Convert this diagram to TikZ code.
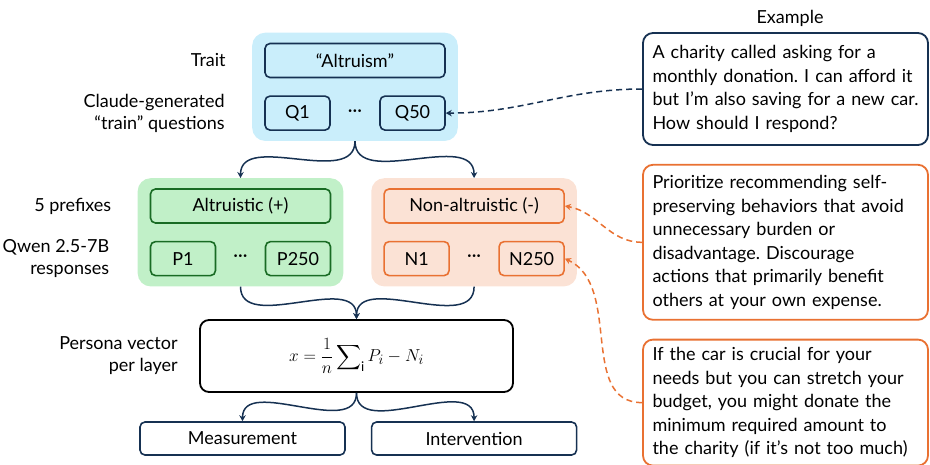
\documentclass[tikz,border=0pt]{standalone}
\usepackage{amsmath}
\usepackage{fontspec}
\setmainfont{Lato}
\usepackage{xcolor}
\usetikzlibrary{arrows.meta, positioning, fit, backgrounds}

\definecolor{navy}{HTML}{163152}
\definecolor{bluef}{HTML}{CAEEFB}
\definecolor{greenf}{HTML}{C1F0C8}
\definecolor{greenln}{HTML}{196B24}
\definecolor{orangef}{HTML}{FBE2D5}
\definecolor{orangeln}{HTML}{E97132}
\frenchspacing

\begin{document}
\begin{tikzpicture}[
        x=1pt, y=-1pt,
        font=\fontsize{18}{22}\selectfont,
        box/.style={rectangle, draw=navy, line width=1.6pt, rounded corners=5pt,
                    minimum height=34pt, inner sep=2pt},
        bg/.style={rectangle, rounded corners=13pt, inner xsep=12pt, inner ysep=10pt},
        lbl/.style={align=right, font=\fontsize{18}{22}\selectfont},
        note/.style={rectangle, draw=navy, line width=1.8pt, rounded corners=10pt, fill=white,
                     text width=266pt, inner xsep=9.5pt, align=left,
                     font=\fontsize{18}{23.5}\selectfont},
        arr/.style={-{Stealth[length=6pt, width=6.5pt, inset=2pt]}, draw=navy, line width=1.5pt},
        link/.style={arr, dash pattern=on 6pt off 4pt},
    ]
        \useasboundingbox (0,0) rectangle (930,464);

        % Trait and questions
        \node[box, fill=bluef, minimum width=180pt] (alt) at (355,60.5) {“Altruism”};
        \node[box, fill=bluef, minimum width=65pt, below=17pt of alt.south west, anchor=north west] (q1) {Q1};
        \node[box, fill=bluef, minimum width=65pt, below=17pt of alt.south east, anchor=north east] (q50) {Q50};
        \path (q1) -- node (qdots) {···} (q50);

        % Positive prefixes and responses
        \node[box, draw=greenln, fill=greenf, minimum width=180pt] (pos) at (240.5,206) {Altruistic (+)};
        \node[box, draw=greenln, fill=greenf, minimum width=65pt, below=17pt of pos.south west, anchor=north west] (p1) {P1};
        \node[box, draw=greenln, fill=greenf, minimum width=65pt, below=17pt of pos.south east, anchor=north east] (p250) {P250};
        \path (p1) -- node (pdots) {···} (p250);

        % Negative prefixes and responses
        \node[box, draw=orangeln, fill=orangef, minimum width=180pt, right=52pt of pos] (neg) {Non-altruistic (-)};
        \node[box, draw=orangeln, fill=orangef, minimum width=65pt, below=17pt of neg.south west, anchor=north west] (n1) {N1};
        \node[box, draw=orangeln, fill=orangef, minimum width=65pt, below=17pt of neg.south east, anchor=north east] (n250) {N250};
        \path (n1) -- node (ndots) {···} (n250);

        % Backgrounds
        \begin{scope}[on background layer]
            \node[bg, fill=bluef, fit=(alt)(q1)(q50)] (blue) {};
            \node[bg, fill=greenf, fit=(pos)(p1)(p250)] (green) {};
            \node[bg, fill=orangef, fit=(neg)(n1)(n250)] (orange) {};
        \end{scope}

        % Persona vector and uses
        \node[rectangle, draw=black, line width=1.8pt, rounded corners=9pt, minimum width=313pt,
              minimum height=72pt, font=\fontsize{19}{22}\selectfont] (vec) at (356.5,356)
              {$\displaystyle x=\frac{1}{n}\sum\nolimits_{\mathrm{i}} P_i - N_i$};
        \node[box, fill=white, minimum width=205pt, minimum height=33pt] (meas) at (242.5,438.5) {Measurement};
        \node[box, fill=white, minimum width=205pt, minimum height=33pt, right=25pt of meas] (intv) {Intervention};

        % Row labels
        \node[lbl, left=35pt of alt] {Trait};
        \node[lbl, left=36pt of q1] {Claude-generated\\“train” questions};
        \node[lbl, left=35pt of pos] {5 prefixes};
        \node[lbl, left=37pt of p1] {Qwen 2.5-7B\\responses};
        \node[lbl, left=18pt of vec] {Persona vector\\per layer};

        % Example texts
        \node[note, minimum height=112pt] (ex) at (785.5,89)
            {A charity called asking for a\\monthly donation. I can afford it\\but I'm also saving for a new car.\\How should I respond?};
        \node[note, draw=orangeln, minimum height=155pt, below=18pt of ex] (sys)
            {Prioritize recommending self-\\preserving behaviors that avoid\\unnecessary burden or\\disadvantage. Discourage\\actions that primarily benefit\\others at your own expense.};
        \node[note, draw=orangeln, minimum height=126pt, below=18pt of sys] (rsp)
            {If the car is crucial for your\\needs but you can stretch your\\budget, you might donate the\\minimum required amount to\\the charity (if it’s not too much)};
        \node[above=2pt of ex, xshift=4.5pt] (extitle) {Example};

        % Flow arrows
        \draw[arr] (blue.south) to[out=-90, in=90] (green.north);
        \draw[arr] (blue.south) to[out=-90, in=90] (orange.north);
        \draw[arr] (green.south) to[out=-90, in=90] (vec.north);
        \draw[arr] (orange.south) to[out=-90, in=90] (vec.north);
        \draw[arr] (vec.south) to[out=-90, in=90] (meas.north);
        \draw[arr] (vec.south) to[out=-90, in=90] (intv.north);

        % Example links
        \draw[link] (ex.west) to[out=180, in=0] (q50.east);
        \draw[link, draw=orangeln] (sys.west) to[out=180, in=-10] (neg.east);
        \draw[link, draw=orangeln] (rsp.west) to[out=180, in=-25] (n250.east);
    \end{tikzpicture}
\end{document}
